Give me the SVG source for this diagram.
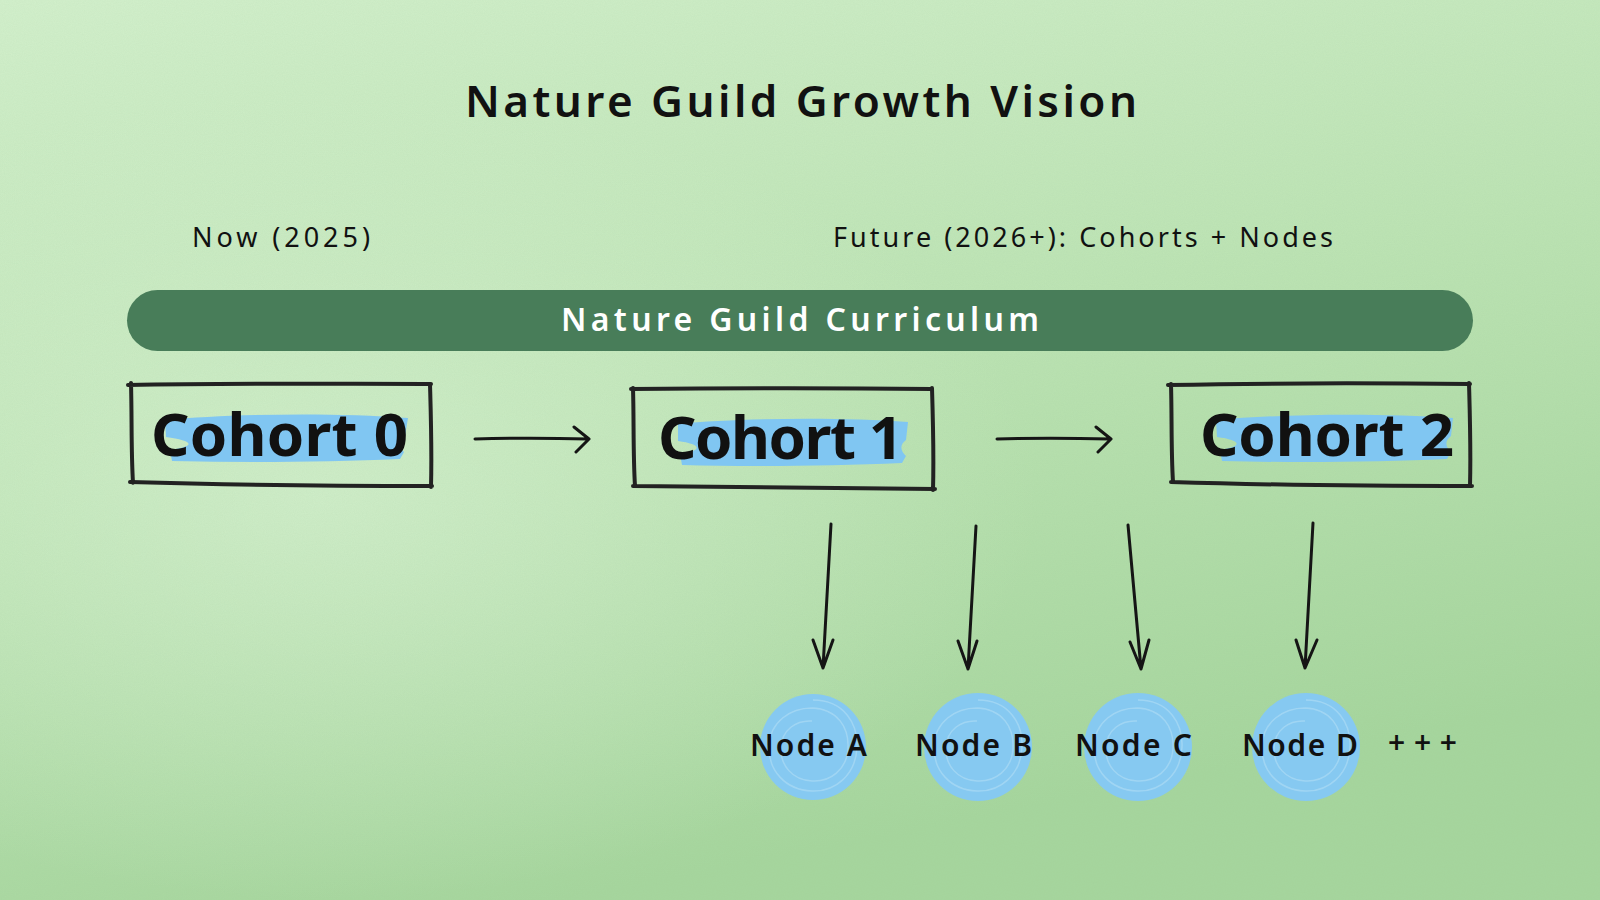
<svg xmlns="http://www.w3.org/2000/svg" width="1600" height="900" viewBox="0 0 1600 900">
<defs>
<linearGradient id="bg" x1="0" y1="0" x2="0.35" y2="1">
<stop offset="0" stop-color="#d3f0cc"/>
<stop offset="0.5" stop-color="#bde4b4"/>
<stop offset="1" stop-color="#a6d69d"/>
</linearGradient>
<radialGradient id="glow" cx="0.2" cy="0.55" r="0.45">
<stop offset="0" stop-color="#d8f2d2" stop-opacity="0.7"/>
<stop offset="1" stop-color="#d8f2d2" stop-opacity="0"/>
</radialGradient>
<filter id="noise" x="0" y="0" width="100%" height="100%">
<feTurbulence type="fractalNoise" baseFrequency="0.9" numOctaves="2" seed="3" result="n"/>
<feColorMatrix type="matrix" values="0 0 0 0 0.3  0 0 0 0 0.5  0 0 0 0 0.3  0 0 0 0.12 0" />
</filter>
</defs>
<style>
.t{font-family:"Noto Sans","Liberation Sans",sans-serif;fill:#111;}
.title{font-size:44px;font-weight:600;}
.sub{font-size:27px;}
.ban{font-size:32px;fill:#fff;font-weight:600;}
.coh{font-size:60px;font-weight:700;}
.nd{font-size:30px;font-weight:600;}
.box{fill:none;stroke:#222;stroke-width:4;stroke-linecap:round;stroke-linejoin:round;}
.ar{fill:none;stroke:#151515;stroke-width:3;stroke-linecap:round;stroke-linejoin:round;}
.hl{fill:#80c6f2;}
.blob{fill:#86c9f1;}
.sw{fill:none;stroke:#a6d8f4;stroke-width:1.5;opacity:0.8;}
</style>
<rect width="1600" height="900" fill="url(#bg)"/>
<rect width="1600" height="900" fill="url(#glow)"/>
<rect width="1600" height="900" filter="url(#noise)"/>

<g id="title"><text class="t title" x="801" y="117" text-anchor="middle" textLength="672" lengthAdjust="spacing">Nature Guild Growth Vision</text></g>
<g id="now-label"><text class="t sub" x="192" y="247" textLength="178" lengthAdjust="spacing">Now (2025)</text></g>
<g id="future-label"><text class="t sub" x="833" y="247" textLength="500" lengthAdjust="spacing">Future (2026+): Cohorts + Nodes</text></g>

<g id="curriculum">
<rect x="127" y="290" width="1346" height="61" rx="30.5" fill="#487d59"/>
<text class="t ban" x="800" y="331" text-anchor="middle" textLength="478" lengthAdjust="spacing">Nature Guild Curriculum</text>
</g>

<g id="cohort0">
<path class="hl" d="M165 420 C230 414 330 412 408 418 L405 436 C395 442 400 448 404 452 L400 459 C330 462 250 463 172 461 L170 450 C200 446 190 440 166 437 Z"/>
<path class="box" d="M128 385 C230 383 330 384 431 384 M131 383 C132 420 131 450 133 483 M130 482 C230 485 330 486 432 486 M430 384 C431 420 432 450 431 487"/>
<text class="t coh" x="151" y="456" textLength="257" lengthAdjust="spacing">Cohort 0</text>
</g>

<g id="cohort1">
<path class="hl" d="M678 424 C740 418 840 417 908 422 L906 440 C898 446 902 452 906 456 L902 463 C830 466 750 467 682 465 L680 454 C705 450 700 444 678 441 Z"/>
<path class="box" d="M631 389 C740 388 840 388 932 389 M633 388 C634 420 633 455 635 486 M633 486 C740 487 840 489 935 489 M932 388 C933 420 934 455 933 490"/>
<text class="t coh" x="658" y="459" textLength="245" lengthAdjust="spacing">Cohort 1</text>
</g>

<g id="cohort2">
<path class="hl" d="M1216 420 C1280 414 1380 413 1453 418 L1451 436 C1443 442 1447 448 1451 452 L1447 459 C1380 462 1300 463 1222 461 L1220 450 C1245 446 1240 440 1217 437 Z"/>
<path class="box" d="M1168 385 C1270 383 1370 383 1470 384 M1171 384 C1172 420 1171 450 1173 482 M1171 482 C1270 485 1370 486 1472 486 M1469 383 C1470 420 1471 450 1470 486"/>
<text class="t coh" x="1200" y="456" textLength="254" lengthAdjust="spacing">Cohort 2</text>
</g>

<g id="nodeA">
<circle class="blob" cx="813" cy="747" r="53"/>
<path class="sw" d="M813 700 C845 700 858 725 857 747 C856 775 835 792 812 791 C785 790 768 770 769 746 C770 722 790 708 812 708 C838 709 849 728 848 748 C847 770 830 782 812 781 C792 780 780 765 781 747 C782 730 796 720 812 721"/>
<text class="t nd" x="750" y="756" textLength="117" lengthAdjust="spacing">Node A</text>
</g>
<g id="nodeB">
<circle class="blob" cx="978" cy="747" r="54"/>
<path class="sw" d="M978 700 C1010 700 1023 725 1022 747 C1021 775 1000 792 977 791 C950 790 933 770 934 746 C935 722 955 708 977 708 C1003 709 1014 728 1013 748 C1012 770 995 782 977 781 C957 780 945 765 946 747 C947 730 961 720 977 721"/>
<text class="t nd" x="915" y="756" textLength="117" lengthAdjust="spacing">Node B</text>
</g>
<g id="nodeC">
<circle class="blob" cx="1138" cy="747" r="54"/>
<path class="sw" d="M1138 700 C1170 700 1183 725 1182 747 C1181 775 1160 792 1137 791 C1110 790 1093 770 1094 746 C1095 722 1115 708 1137 708 C1163 709 1174 728 1173 748 C1172 770 1155 782 1137 781 C1117 780 1105 765 1106 747 C1107 730 1121 720 1137 721"/>
<text class="t nd" x="1075" y="756" textLength="117" lengthAdjust="spacing">Node C</text>
</g>
<g id="nodeD">
<circle class="blob" cx="1306" cy="747" r="54"/>
<path class="sw" d="M1306 700 C1338 700 1351 725 1350 747 C1349 775 1328 792 1305 791 C1278 790 1261 770 1262 746 C1263 722 1283 708 1305 708 C1331 709 1342 728 1341 748 C1340 770 1323 782 1305 781 C1285 780 1273 765 1274 747 C1275 730 1289 720 1305 721"/>
<text class="t nd" x="1242" y="756" textLength="116" lengthAdjust="spacing">Node D</text>
</g>
<g id="more"><text class="t nd" x="1388" y="753" textLength="69" lengthAdjust="spacing">+++</text></g>

<g id="connectors">
<path class="ar" d="M475 439 C510 438 550 438 588 439 M574 427 L589 439 L576 452"/>
<path class="ar" d="M997 439 C1030 438 1070 438 1110 439 M1096 427 L1111 439 L1098 452"/>
<path class="ar" d="M831 524 L823 668 M813 640 L823 668 L833 640"/>
<path class="ar" d="M976 526 L968 669 M958 641 L968 669 L977 641"/>
<path class="ar" d="M1128 525 L1141 669 M1130 642 L1141 669 L1149 640"/>
<path class="ar" d="M1313 523 L1305 668 M1296 640 L1305 668 L1317 640"/>
</g>
</svg>
